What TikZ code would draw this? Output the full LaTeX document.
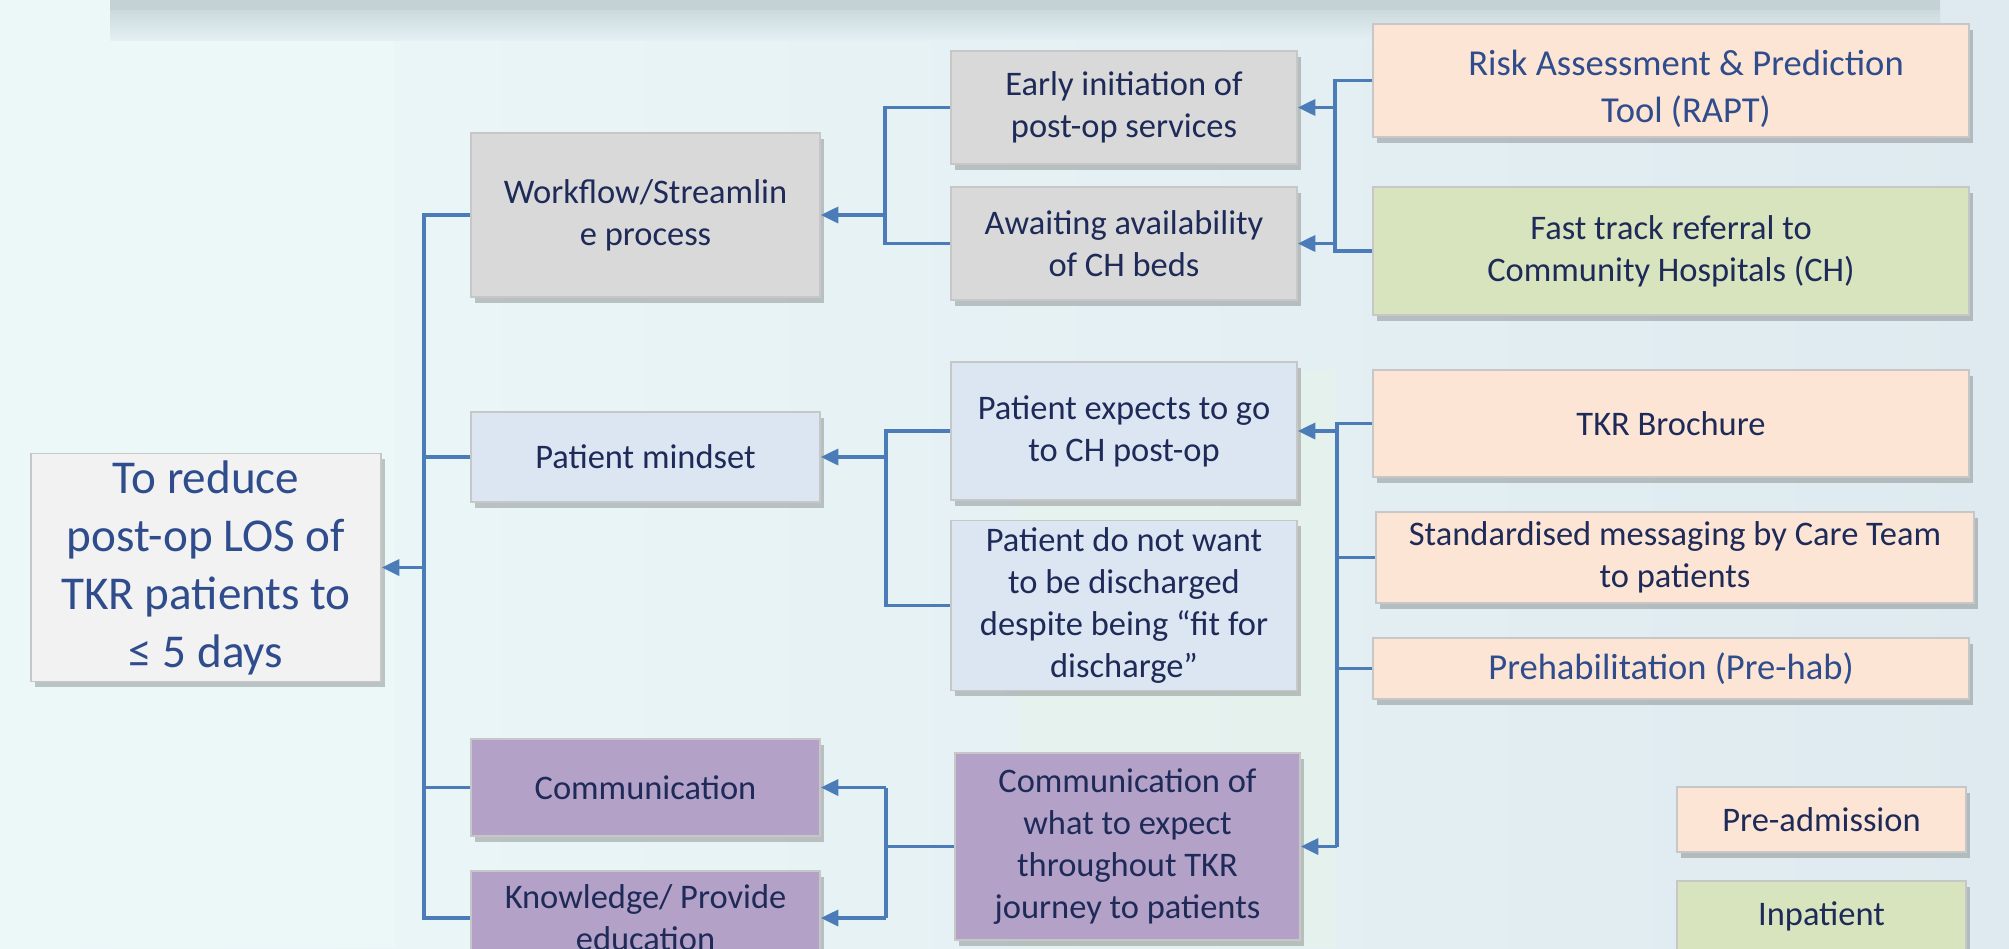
\documentclass[tikz,border=0pt]{standalone}
\usepackage{fontspec}
\setmainfont{Carlito}
\usetikzlibrary{arrows.meta,shadows}
\definecolor{bgleft}{RGB}{236,248,248}
\definecolor{bgright}{RGB}{222,234,239}
\definecolor{bgband}{RGB}{231,243,236}
\definecolor{topgrey}{RGB}{196,210,214}
\definecolor{navy}{RGB}{30,42,88}
\definecolor{midblue}{RGB}{47,76,140}
\definecolor{lineblue}{RGB}{76,124,184}
\definecolor{greyfill}{RGB}{217,217,217}
\definecolor{mindfill}{RGB}{220,230,242}
\definecolor{purplefill}{RGB}{179,161,199}
\definecolor{peachfill}{RGB}{252,229,212}
\definecolor{greenfill}{RGB}{216,228,189}
\definecolor{goalfill}{RGB}{242,242,242}
\begin{document}
\begin{tikzpicture}[x=0.01cm,y=-0.01cm,
  box/.style={draw=black!22, line width=0.4pt, align=center, inner sep=2pt,
    font=\fontsize{9.8}{12}\selectfont, text=navy,
    drop shadow={shadow xshift=1.2pt, shadow yshift=-1.6pt, opacity=0.3, fill=black!70}},
  greybox/.style={box, fill=greyfill},
  mindbox/.style={box, fill=mindfill},
  purplebox/.style={box, fill=purplefill},
  peachbox/.style={box, fill=peachfill},
  greenbox/.style={box, fill=greenfill},
  conn/.style={draw=lineblue, line width=0.9pt},
  arr/.style={conn, -{Triangle[length=5pt, width=4.6pt]}}
]
\useasboundingbox (0,0) rectangle (2009,948);
\clip (0,0) rectangle (2009,948);
% background
\shade[left color=bgleft, right color=bgright] (0,0) rectangle (2009,948);
\fill[bgleft] (0,0) rectangle (395,948);
\fill[bgband, opacity=0.7] (1020,370) rectangle (1335,948);
\shade[top color=topgrey, bottom color=bgright!60!bgleft] (110,0) rectangle (1940,40);
\fill[topgrey] (110,0) rectangle (1940,10);

% nodes
\node[box, fill=goalfill, text=midblue, font=\fontsize{13.4}{16.5}\selectfont,
  minimum width=3.5cm, minimum height=2.25cm] (goal) at (206,567.5)
  {To reduce\\post-op LOS of\\TKR patients to\\≤ 5 days};

\node[greybox, minimum width=3.49cm, minimum height=1.64cm] (wf) at (645.5,215) {Workflow/Streamlin\\e process};
\node[mindbox, minimum width=3.49cm, minimum height=0.90cm] (mind) at (645.5,457) {Patient mindset};
\node[purplebox, minimum width=3.49cm, minimum height=0.97cm] (comm) at (645.5,787.5) {Communication};
\node[purplebox, minimum width=3.49cm, minimum height=0.94cm] (know) at (645.5,918) {Knowledge/ Provide\\education};

\node[greybox, minimum width=3.46cm, minimum height=1.13cm] (early) at (1124,107.5) {Early initiation of\\post-op services};
\node[greybox, minimum width=3.46cm, minimum height=1.13cm] (await) at (1124,243.5) {Awaiting availability\\of CH beds};
\node[mindbox, minimum width=3.46cm, minimum height=1.38cm] (expects) at (1124,431) {Patient expects to go\\to CH post-op};
\node[mindbox, minimum width=3.46cm, minimum height=1.65cm] (notwant) at (1124,605.5) {Patient do not want\\to be discharged\\despite being ``fit for\\discharge''};
\node[purplebox, minimum width=3.45cm, minimum height=1.87cm] (commof) at (1127.5,846.5) {Communication of\\what to expect\\throughout TKR\\journey to patients};

\node[peachbox, text=midblue, font=\fontsize{10.4}{13.4}\selectfont, minimum width=5.96cm, minimum height=1.13cm] (rapt) at (1671,80.5) {\rule{0pt}{12pt}\hspace*{0.3cm}Risk Assessment \& Prediction\\\hspace*{0.3cm}Tool (RAPT)};
\node[greenbox, minimum width=5.96cm, minimum height=1.28cm] (fast) at (1671,251) {Fast track referral to\\Community Hospitals (CH)};
\node[peachbox, minimum width=5.96cm, minimum height=1.07cm] (tkr) at (1671,423.5) {TKR Brochure};
\node[peachbox, minimum width=5.98cm, minimum height=0.91cm] (std) at (1675,557.5) {Standardised messaging by Care Team\\to patients};
\node[peachbox, text=midblue, font=\fontsize{10.4}{12.3}\selectfont, minimum width=5.96cm, minimum height=0.61cm] (prehab) at (1671,668.5) {Prehabilitation (Pre-hab)};

\node[peachbox, minimum width=2.89cm, minimum height=0.65cm] (preadm) at (1821.5,819.5) {Pre-admission};
\node[greenbox, minimum width=2.89cm, minimum height=0.70cm] (inpat) at (1821.5,916) {Inpatient};

% junction coordinates
\coordinate (t1) at (424,567.5);
\coordinate (c1) at (885,215);
\coordinate (c2) at (1335,0);
\coordinate (c3) at (886,0);
\coordinate (c4) at (886,0);
\coordinate (c5) at (1337,0);

% main trunk
\draw[conn] (wf.west) -| (t1) |- (know.west);
\draw[conn] (mind.west) -- (mind.west -| t1);
\draw[conn] (comm.west) -- (comm.west -| t1);
\draw[arr] (t1) -- (goal.east);

% workflow group
\draw[conn] (early.west) -| (c1) |- (await.west);
\draw[arr] (c1) -- (wf.east);

% RAPT / fast track
\draw[conn] (rapt.west) -- (rapt.west -| c2) -- (fast.west -| c2) -- (fast.west);
\draw[arr] (early.east -| c2) -- (early.east);
\draw[arr] (await.east -| c2) -- (await.east);

% patient mindset group
\draw[conn] (expects.west) -- (expects.west -| c3) -- (notwant.west -| c3) -- (notwant.west);
\draw[arr] (mind.east -| c3) -- (mind.east);

% communication group
\draw[conn] (commof.west) -- (commof.west -| c4);
\draw[conn] (comm.east -| c4) -- (know.east -| c4);
\draw[arr] (comm.east -| c4) -- (comm.east);
\draw[arr] (know.east -| c4) -- (know.east);

% pre-admission measures
\draw[conn] (tkr.west) -- (tkr.west -| c5) -- (commof.east -| c5);
\draw[conn] (std.west) -- (std.west -| c5);
\draw[conn] (prehab.west) -- (prehab.west -| c5);
\draw[arr] (expects.east -| c5) -- (expects.east);
\draw[arr] (commof.east -| c5) -- (commof.east);
\end{tikzpicture}
\end{document}
